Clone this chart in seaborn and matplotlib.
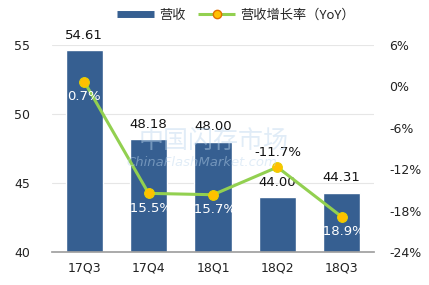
import matplotlib
matplotlib.use("Agg")
import matplotlib.pyplot as plt
import seaborn as sns
import pandas as pd
from matplotlib.lines import Line2D

quarters = ["17Q3", "17Q4", "18Q1", "18Q2", "18Q3"]
revenue = [54.61, 48.18, 48.00, 44.00, 44.31]
growth = [0.7, -15.5, -15.7, -11.7, -18.9]
left_ticks = [40, 45, 50, 55]
right_ticks = [6, 0, -6, -12, -18, -24]

sns.set_theme(style="white")
plt.rcParams['font.family'] = ['DejaVu Sans', 'Noto Sans CJK SC']

bar_color = "#365F91"
line_color = "#92D050"
marker_color = "#FFC000"

df = pd.DataFrame({"q": quarters, "rev": revenue, "g": growth})

fig = plt.figure(figsize=(4.29, 2.85), dpi=100)
ax = fig.add_axes([52/429, 1-252/285, (374-52)/429, (252-45)/285])
sns.barplot(data=df, x="q", y="rev", color=bar_color, width=0.58, ax=ax, saturation=1)
ax.set_ylim(40, 55)
ax.set_xlim(-0.5, 4.5)
ax.set_yticks(left_ticks)
ax.set_xlabel("")
ax.set_ylabel("")
ax.grid(axis="y", color="#E6E6E6", linewidth=0.8)
ax.set_axisbelow(True)
for s in ["top", "right", "left"]:
    ax.spines[s].set_visible(False)
ax.spines["bottom"].set_color("#A0A0A0")
ax.tick_params(axis="both", labelsize=9, length=0, colors="#222222")
ax.tick_params(axis="y", pad=16)
ax.tick_params(axis="x", pad=7)

# watermark (faint, behind data)
fig.text(0.498, 0.505, "中国闪存市场", ha="center", va="center", fontsize=18,
         color="#BDD7EE", alpha=0.45, family=["Noto Sans CJK SC"], zorder=0.5)
fig.text(0.47, 0.43, "ChinaFlashMarket.com", ha="center", va="center", fontsize=9.5,
         color="#BDD7EE", alpha=0.45, style="italic", zorder=0.5)

for i, v in enumerate(revenue):
    ax.text(i, v + 0.6, f"{v:.2f}", ha="center", va="bottom", fontsize=9.5, color="#111111", clip_on=False)

ax2 = ax.twinx()
sns.lineplot(x=list(range(len(quarters))), y=growth, ax=ax2, color=line_color, linewidth=2.2,
             marker="o", markersize=7, markerfacecolor=marker_color, markeredgecolor="#E8D000",
             markeredgewidth=0.8)
ax2.set_ylim(-24, 6)
ax2.set_yticks(right_ticks)
ax2.set_yticklabels([f"{t}%" for t in right_ticks])
ax2.tick_params(axis="y", labelsize=9, length=0, pad=11, colors="#222222")
for s in ["top", "right", "left", "bottom"]:
    ax2.spines[s].set_visible(False)
ax2.grid(False)

for i, g in enumerate(growth):
    if i == 3:
        ax2.text(i, g + 1.2, f"{g}%", ha="center", va="bottom", fontsize=9.5, color="#111111")
    else:
        ax2.text(i, g - 1.2, f"{g}%", ha="center", va="top", fontsize=9.5, color="white")

handles = [Line2D([0], [0], color=bar_color, linewidth=5, solid_capstyle="butt"),
           Line2D([0], [0], color=line_color, linewidth=2.2, marker="o", markersize=6,
                  markerfacecolor=marker_color, markeredgecolor="#E07000", solid_capstyle="butt")]
fig.legend(handles, ["营收", "营收增长率（YoY）"], loc="center", bbox_to_anchor=(0.55, 0.947),
           ncol=2, frameon=False, handlelength=2.8, handletextpad=0.4, columnspacing=1.0,
           prop={"family": ["Noto Sans CJK SC"], "size": 9.5})

fig.savefig("out.png", dpi=100)
